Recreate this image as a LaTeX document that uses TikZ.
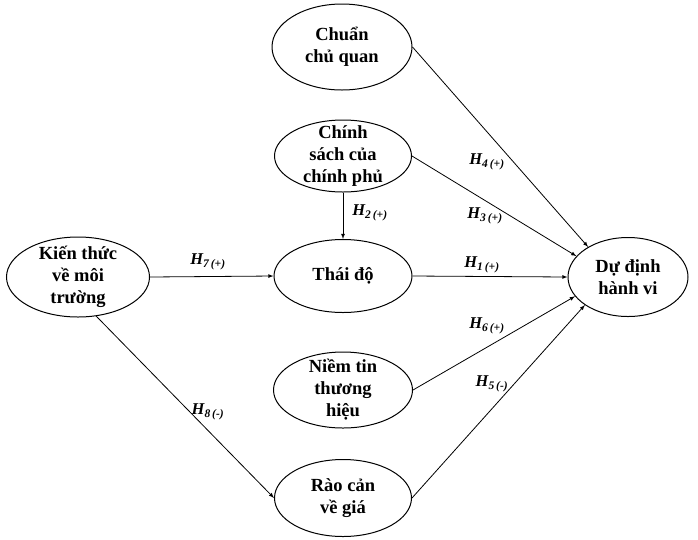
\documentclass[tikz,border=0pt]{standalone}
\usepackage{fontspec}
\setmainfont{Liberation Serif}
\usetikzlibrary{arrows,shapes.geometric}

\tikzset{
  factor/.style={ellipse,draw,line width=1pt,inner xsep=0pt,inner ysep=-14pt,
    minimum width=138pt,minimum height=76pt,align=center,
    font=\fontsize{18.5}{22}\selectfont\bfseries},
  link/.style={-latex,line width=0.8pt},
  hyp/.style={inner sep=0pt,font=\fontsize{16.5}{18}\selectfont\bfseries\itshape}
}
\newcommand{\hyplabel}[2]{H\textsubscript{#1\,(#2)}}

\begin{document}
\begin{tikzpicture}[x=1pt,y=-1pt]
\useasboundingbox (0,0) rectangle (698,539);

% The factors.
\node[factor,minimum width=140pt,minimum height=86pt] (cq) at (342,47) {Chuẩn\\chủ quan};
\node[factor,minimum width=137pt,minimum height=72pt] (cs) at (343,156) {Chính\\sách của\\chính phủ};
\node[factor,minimum height=73pt] (td) at (343,276) {Thái độ};
\node[factor,minimum width=139pt] (nt) at (343,390) {Niềm tin\\thương\\hiệu};
\node[factor,minimum width=137pt,minimum height=77pt] (rc) at (343,498) {Rào cản\\về giá};
\node[factor,minimum width=143pt,minimum height=80pt] (kt) at (78,277) {Kiến thức\\về môi\\trường};
\node[factor,minimum width=120pt,minimum height=79pt] (dd) at (628,277) {Dự định\\hành vi};

% Arrows into the intention.
\draw[link] (cq.east) -- (dd.143);
\draw[link] (cs.east) -- (dd.158);
\draw[link] (td.east) -- (dd.west);
\draw[link] (nt.east) -- (dd.200);
\draw[link] (rc.east) -- (dd.213);

% Arrows from policy and knowledge.
\draw[link] (cs.south) -- (td.north);
\draw[link] (kt.east) -- (td.west);
\draw[link] (kt.-65) -- (rc.west);

% Hypotheses.
\node[hyp] (h4) at (487,162) {\hyplabel{4}{+}};
\node[hyp] (h3) at (485,216) {\hyplabel{3}{+}};
\node[hyp] (h1) at (482,265) {\hyplabel{1}{+}};
\node[hyp] (h6) at (487,326) {\hyplabel{6}{+}};
\node[hyp] (h5) at (492,384) {\hyplabel{5}{-}};
\node[hyp] (h2) at (370,213) {\hyplabel{2}{+}};
\node[hyp] (h7) at (208,262) {\hyplabel{7}{+}};
\node[hyp] (h8) at (208,412) {\hyplabel{8}{-}};

\end{tikzpicture}
\end{document}
